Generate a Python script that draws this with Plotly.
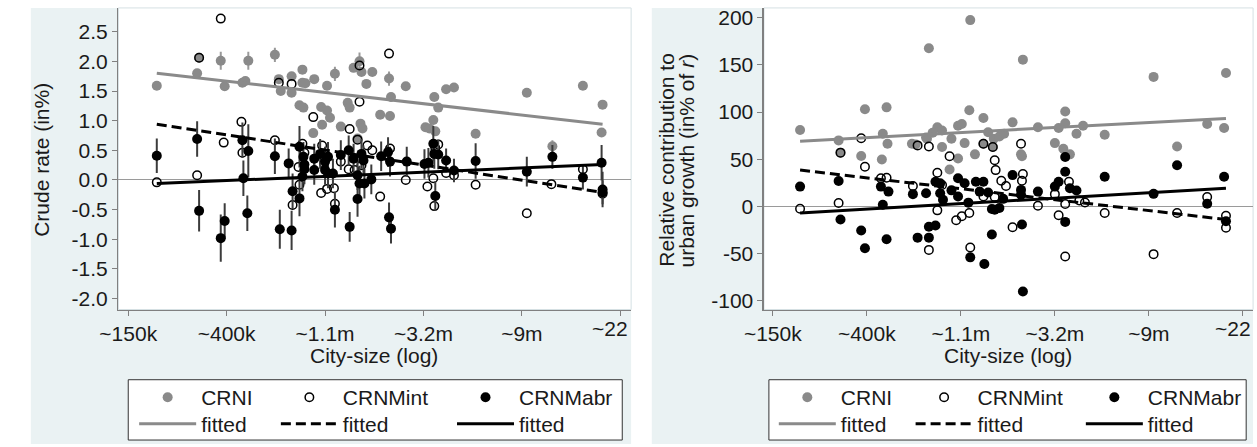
import plotly.graph_objects as go

W, H = 1257, 447

# ---------------- tick labels ----------------
x_tickvals = [12, 13, 14, 15, 16, 17]
x_ticktext = ["~150k", "~400k", "~1.1m", "~3.2m", "~9m", ""]
x_last_label = "~22"          # shown clipped at the panel edge in the original
yL_tickvals = [2.5, 2.0, 1.5, 1.0, 0.5, 0.0, -0.5, -1.0, -1.5, -2.0]
yL_ticktext = ["2.5", "2.0", "1.5", "1.0", "0.5", "0.0", "-0.5", "-1.0", "-1.5", "-2.0"]
yR_tickvals = [200, 150, 100, 50, 0, -50, -100]
yR_ticktext = ["200", "150", "100", "50", "0", "-50", "-100"]

# ---------------- left panel: crude rates (in %) ----------------
L_crni_x = [12.29, 12.70, 12.72, 12.94, 12.98, 13.16, 13.19, 13.22, 13.49, 13.53, 13.55, 13.66, 13.66,
            13.74, 13.77, 13.77, 13.80, 13.78, 13.88, 13.89, 13.96, 13.97, 14.02, 14.02, 14.05, 14.10,
            14.16, 14.23, 14.25, 14.29, 14.33, 14.35, 14.36, 14.37, 14.38, 14.42, 14.48, 14.56, 14.65,
            14.66, 14.67, 14.82, 15.02, 15.06, 15.10, 15.11, 15.12, 15.15, 15.23, 15.31, 15.53, 16.05,
            16.31, 16.62, 16.81, 16.82]
L_crni_y = [1.59, 1.80, 2.06, 2.01, 1.58, 1.64, 1.67, 2.01, 2.11, 1.70, 1.50, 1.75, 1.47,
            1.26, 1.86, 1.64, 1.63, 1.22, 0.79, 1.70, 1.23, 0.93, 1.59, 1.17, 1.05, 1.79,
            0.90, 1.30, 1.22, 1.89, 0.70, 2.00, 0.95, 1.82, 0.87, 1.62, 1.82, 1.10, 1.71,
            1.08, 1.40, 1.58, 0.89, 0.87, 1.01, 1.40, 0.82, 1.22, 1.53, 1.56, 0.78, 1.47,
            0.57, 1.59, 0.80, 1.27]
L_crni_err = [0, 0, 0, 0.15, 0, 0, 0, 0.15, 0.12, 0, 0, 0, 0,
              0, 0, 0, 0, 0, 0, 0, 0, 0, 0, 0, 0, 0.12,
              0, 0, 0, 0, 0, 0.15, 0, 0, 0, 0, 0, 0, 0.12,
              0, 0, 0, 0, 0, 0, 0, 0, 0, 0, 0, 0, 0,
              0.10, 0, 0, 0]

L_int_x = [12.29, 12.70, 12.72, 12.94, 12.97, 13.15, 13.16, 13.49, 13.53, 13.66, 13.67, 13.73, 13.74,
           13.77, 13.79, 13.88, 13.96, 13.97, 13.99, 14.02, 14.09, 14.10, 14.16, 14.24, 14.25, 14.30,
           14.33, 14.35, 14.35, 14.37, 14.43, 14.48, 14.56, 14.65, 14.66, 14.82, 15.04, 15.10, 15.12,
           15.15, 15.11, 15.23, 15.31, 15.53, 16.05, 16.30, 16.62, 16.82]
L_int_y = [-0.04, 0.08, 2.06, 2.72, 0.63, 0.98, 0.46, 0.67, 1.64, 1.62, -0.42, 0.22, -0.08,
           0.61, 0.46, 1.06, -0.22, 0.58, 0.28, -0.15, -0.14, -0.40, 0.31, 0.18, 0.86, 0.17,
           0.68, 1.93, 1.32, 0.25, 0.58, 0.50, -0.28, 2.13, 0.53, 0.00, -0.11, 0.03, 0.54,
           0.60, -0.44, 0.12, 0.08, -0.08, -0.56, -0.07, 0.18, -0.23]

L_abr_x = [12.29, 12.70, 12.72, 12.94, 12.98, 13.16, 13.17, 13.21, 13.22, 13.49, 13.54, 13.63, 13.66,
           13.67, 13.74, 13.74, 13.77, 13.78, 13.79, 13.79, 13.89, 13.89, 13.95, 14.00, 14.00, 14.03,
           14.03, 14.08, 14.10, 14.16, 14.24, 14.25, 14.29, 14.33, 14.33, 14.35, 14.37, 14.39, 14.40,
           14.47, 14.57, 14.64, 14.65, 14.66, 14.67, 14.83, 15.01, 15.05, 15.10, 15.11, 15.15, 15.12,
           15.23, 15.31, 15.53, 16.05, 16.31, 16.62, 16.81, 16.82, 16.82]
L_abr_y = [0.41, 0.69, -0.52, -0.98, -0.69, 0.67, 0.03, -0.56, 0.49, 0.40, -0.83, 0.28, -0.85,
           -0.19, 0.56, -0.31, 0.06, 0.39, 0.26, 0.18, 0.36, 0.17, 0.44, 0.31, 0.17, 0.39,
           0.11, 0.11, -0.50, 0.42, 0.50, -0.79, 0.36, -0.32, 0.08, -0.06, 0.44, 0.33, -0.06,
           0.01, 0.40, 0.47, -0.63, 0.31, -0.82, 0.31, 0.27, 0.29, 0.61, 0.44, 0.43, -0.27,
           0.33, 0.16, 0.32, 0.14, 0.39, 0.04, 0.29, -0.16, -0.21]
L_abr_err = [0.29, 0.30, 0.35, 0.40, 0.30, 0.30, 0.30, 0.30, 0.45, 0.30, 0.33, 0.25, 0.33,
             0.30, 0.35, 0.30, 0.25, 0.25, 0.20, 0.25, 0.25, 0.25, 0.25, 0.25, 0.25, 0.25,
             0.25, 0.25, 0.30, 0.25, 0.25, 0.25, 0.25, 0.30, 0.25, 0.30, 0.25, 0.25, 0.25,
             0.25, 0.25, 0.25, 0.25, 0.25, 0.25, 0.25, 0.25, 0.25, 0.30, 0.25, 0.25, 0.25,
             0.20, 0.20, 0.30, 0.25, 0.20, 0.20, 0.30, 0.30, 0.20]

fit_x = [12.29, 16.82]
L_fit_crni = [1.80, 0.94]
L_fit_int = [0.94, -0.21]
L_fit_abr = [-0.06, 0.26]

# ---------------- right panel: relative contribution (in % of r) ----------------
R_crni_x = [12.29, 12.70, 12.72, 12.98, 13.21, 12.94, 13.16, 13.17, 13.22, 13.48, 13.52, 13.64, 13.66,
            14.10, 14.66, 14.09, 14.24, 14.55, 15.11, 15.11, 14.82, 15.04, 15.30, 15.23, 15.00, 15.09,
            15.16, 14.64, 14.65, 13.75, 13.80, 13.97, 14.01, 13.90, 14.04, 14.29, 14.35, 14.41, 14.46,
            13.80, 13.97, 14.15, 13.88, 14.24, 14.34, 16.05, 16.82, 16.62, 16.80, 16.30, 15.53, 13.63,
            13.70]
R_crni_y = [81, 70, 57, 103, 105, 53.5, 49.7, 77, 66.5, 66.5, 65.7, 71.7, 167.7,
            197.5, 155.6, 102, 93.7, 89.1, 100.6, 88.1, 83.9, 83.2, 85.6, 77, 67.1, 61.2,
            55.2, 55.2, 53.1, 83.9, 80.4, 85.6, 87.4, 71.7, 67.1, 78.6, 71.7, 74.1, 77,
            62.9, 50.7, 55.2, 39.2, 66.5, 62.9, 137.3, 141.5, 87.4, 83.2, 63.6, 75.9, 73,
            78]

R_int_x = [12.29, 12.70, 12.72, 12.94, 12.98, 13.15, 13.21, 13.49, 13.54, 13.66, 13.66, 13.88, 13.75,
           13.80, 13.75, 13.95, 14.01, 14.09, 14.10, 14.24, 14.34, 14.36, 14.37, 14.43, 14.48, 14.36,
           14.24, 14.64, 14.66, 14.65, 14.82, 14.55, 15.04, 15.11, 15.15, 15.00, 15.11, 15.26, 15.32,
           15.53, 16.05, 16.30, 16.62, 16.82, 16.82]
R_int_y = [-2.4, 3.6, 57, 72.3, 42, 29.8, 30.4, 21.7, 64.7, 63.6, -46.1, 53.1, 35.6,
           22.7, -4.2, -14.7, -10.5, -6.9, -43.6, 66.5, 62.9, 49, 38.5, 27.3, 21.7, 9.9,
           10.5, 66.5, 34.3, 27.3, 0.7, -22, -9.4, 2.5, 26.2, 13, -53, 6.3, 4.2,
           -7, -50.6, -7, 9.9, -22.6, -10]

R_abr_x = [12.29, 12.70, 12.72, 12.94, 12.98, 13.15, 13.23, 13.17, 13.21, 13.49, 13.63, 13.54, 13.66,
           13.66, 13.73, 13.73, 13.78, 13.78, 13.81, 13.97, 14.04, 13.97, 14.16, 14.24, 14.20, 14.29,
           14.33, 14.36, 14.41, 14.33, 14.10, 14.25, 14.55, 14.64, 14.64, 14.65, 14.66, 14.82, 15.11,
           15.11, 15.04, 15.00, 15.16, 15.23, 15.11, 15.53, 16.05, 16.30, 16.62, 16.80, 16.82, 13.90,
           14.08, 14.45]
R_abr_y = [21, 26.9, -13.9, -25.5, -44.3, 21, 15.7, 1.8, -34.9, 13, 14, -33.1, -33.1,
           -21.6, -20.2, 26.2, 24.5, 14, 7, 29.8, 24.5, 10.5, 26.2, 26.2, 15.7, 14.7,
           -2.7, -3.5, -1.7, -29.7, -54, -61, 33.2, 17.5, 12.3, -19.2, -90.1, 15.7, 52.4,
           36.7, 26.2, 21, 19.3, 16.8, -16.4, 31.4, 13.3, 43.7, 2.8, 31.4, -15.7, 17,
           4, 8]

R_fit_crni = [69.2, 93.3]
R_fit_int = [38.5, -13.9]
R_fit_abr = [-6.9, 19.3]

# ---------------- styling ----------------
GRAY = "#8a8a8a"
FONT = "Liberation Sans, Arial, sans-serif"
FS = 21
TXT = "#1a1a1a"


def px_x(p):
    """page pixel -> paper fraction"""
    return min(max(p / W, 0.0), 1.0)


def px_y(p):
    return min(max(1 - p / H, 0.0), 1.0)


fig = go.Figure()


def add_panel(xa, ya, cx, cy, ce, ix, iy, ax, ay, ae, fc, fi, fa, lg):
    err_c = dict(type="data", array=ce, visible=True, color="#9a9a9a", thickness=2, width=0) if ce else None
    err_a = dict(type="data", array=ae, visible=True, color="#3c3c3c", thickness=2, width=0) if ae else None
    fig.add_trace(go.Scatter(x=cx, y=cy, mode="markers", name="CRNI", xaxis=xa, yaxis=ya,
                             marker=dict(color=GRAY, size=10, line=dict(width=0)),
                             error_y=err_c, legend=lg[0]))
    fig.add_trace(go.Scatter(x=ix, y=iy, mode="markers", name="CRNMint", xaxis=xa, yaxis=ya,
                             marker=dict(symbol="circle-open", color="black", size=8.5, line=dict(width=1.5)),
                             legend=lg[1]))
    fig.add_trace(go.Scatter(x=ax, y=ay, mode="markers", name="CRNMabr", xaxis=xa, yaxis=ya,
                             marker=dict(color="black", size=10, line=dict(width=0)),
                             error_y=err_a, legend=lg[2]))
    fig.add_trace(go.Scatter(x=fit_x, y=fc, mode="lines", name="fitted", xaxis=xa, yaxis=ya,
                             line=dict(color=GRAY, width=3), legend=lg[3]))
    fig.add_trace(go.Scatter(x=fit_x, y=fi, mode="lines", name="fitted", xaxis=xa, yaxis=ya,
                             line=dict(color="black", width=3, dash="10px,5px"), legend=lg[4]))
    fig.add_trace(go.Scatter(x=fit_x, y=fa, mode="lines", name="fitted", xaxis=xa, yaxis=ya,
                             line=dict(color="black", width=3), legend=lg[5]))


add_panel("x", "y", L_crni_x, L_crni_y, L_crni_err, L_int_x, L_int_y, L_abr_x, L_abr_y, L_abr_err,
          L_fit_crni, L_fit_int, L_fit_abr, ["legend", "legend2", "legend3", "legend4", "legend5", "legend6"])
add_panel("x2", "y2", R_crni_x, R_crni_y, None, R_int_x, R_int_y, R_abr_x, R_abr_y, None,
          R_fit_crni, R_fit_int, R_fit_abr, ["legend7", "legend8", "legend9", "legend10", "legend11", "legend12"])

axis_common = dict(showgrid=False, ticks="outside", ticklen=5, tickcolor="#808080", showline=True,
                   linecolor="#808080", linewidth=1.5, tickfont=dict(size=FS, color=TXT, family=FONT),
                   mirror=False, ticklabeloverflow="allow")

PLOT_TOP = 6
PLOT_BOT = 311
fig.update_layout(
    width=W, height=H, margin=dict(l=0, r=0, t=0, b=0), showlegend=True, hovermode=False,
    paper_bgcolor="white", plot_bgcolor="rgba(0,0,0,0)",
    font=dict(family=FONT, size=FS, color=TXT),
    xaxis=dict(domain=[px_x(100), px_x(621)], range=[11.9, 17.11], tickvals=x_tickvals,
               ticktext=x_ticktext, anchor="y", zeroline=False, **axis_common),
    yaxis=dict(domain=[px_y(PLOT_BOT), px_y(PLOT_TOP)], range=[-2.183, 2.9], tickvals=yL_tickvals,
               ticktext=yL_ticktext, anchor="x", zeroline=True, zerolinecolor="#9a9a9a",
               zerolinewidth=1, **axis_common),
    xaxis2=dict(domain=[px_x(756), px_x(1253)], range=[11.906, 17.108], tickvals=x_tickvals,
                ticktext=x_ticktext, anchor="y2", zeroline=False, **axis_common),
    yaxis2=dict(domain=[px_y(PLOT_BOT), px_y(PLOT_TOP)], range=[-109.3, 210.4], tickvals=yR_tickvals,
                ticktext=yR_ticktext, anchor="x2", zeroline=True, zerolinecolor="#9a9a9a",
                zerolinewidth=1, **axis_common),
)

# legends: one entry per legend so that the Stata-like column layout is reproduced
ITEMW = 57
legend_pos = {
    "legend": (183, 400), "legend2": (327, 400), "legend3": (506, 400),
    "legend4": (183, 427), "legend5": (327, 427), "legend6": (506, 427),
    "legend7": (833, 400), "legend8": (972, 400), "legend9": (1145, 400),
    "legend10": (833, 427), "legend11": (972, 427), "legend12": (1145, 427),
}
leg_layout = {}
for name, (tx, ty) in legend_pos.items():
    leg_layout[name] = dict(x=px_x(tx - ITEMW - 10), y=px_y(ty), xanchor="left", yanchor="middle",
                            bgcolor="rgba(0,0,0,0)", borderwidth=0, itemwidth=ITEMW,
                            font=dict(size=FS, family=FONT, color=TXT))
fig.update_layout(**leg_layout)

BG = "#eaf2f3"
shapes = [
    dict(type="rect", xref="paper", yref="paper", x0=px_x(11), x1=px_x(621), y0=0, y1=px_y(PLOT_TOP),
         fillcolor=BG, line=dict(width=0), layer="below"),
    dict(type="rect", xref="paper", yref="paper", x0=px_x(642), x1=px_x(1253), y0=0, y1=px_y(PLOT_TOP),
         fillcolor=BG, line=dict(width=0), layer="below"),
    dict(type="rect", xref="paper", yref="paper", x0=px_x(100), x1=px_x(621), y0=px_y(PLOT_BOT),
         y1=px_y(PLOT_TOP), fillcolor="white", line=dict(color="#d5e0e3", width=1), layer="below"),
    dict(type="rect", xref="paper", yref="paper", x0=px_x(756), x1=px_x(1253), y0=px_y(PLOT_BOT),
         y1=px_y(PLOT_TOP), fillcolor="white", line=dict(color="#d5e0e3", width=1), layer="below"),
    dict(type="rect", xref="paper", yref="paper", x0=px_x(110), x1=px_x(612), y0=px_y(443), y1=px_y(382),
         fillcolor="white", line=dict(color="#333333", width=1), layer="below"),
    dict(type="rect", xref="paper", yref="paper", x0=px_x(761), x1=px_x(1246), y0=px_y(443), y1=px_y(382),
         fillcolor="white", line=dict(color="#333333", width=1), layer="below"),
]
fig.update_layout(shapes=shapes)


def ann(text, x, y, xanchor="center", angle=0):
    return dict(text=text, x=px_x(x), y=px_y(y), xref="paper", yref="paper", showarrow=False,
                xanchor=xanchor, yanchor="middle", textangle=angle, font=dict(size=FS, color=TXT, family=FONT))


annotations = [
    ann("City-size (log)", 360, 358),
    ann("City-size (log)", 1004, 358),
    ann("Crude rate (in%)", 22, 160, angle=-90),
    ann("Relative contribution to", 657, 160, angle=-90),
    ann("urban growth (in% of <i>r</i>)", 677, 160, angle=-90),
    ann(x_last_label, 620, 330, xanchor="right"),
    ann(x_last_label, 1253, 330, xanchor="right"),
]
fig.update_layout(annotations=annotations)

# remove the default page margin so the 1257x447 figure fills the window exactly
page_fix = ("document.body.style.margin='0';document.body.style.padding='0';"
            "document.body.style.overflow='hidden';document.documentElement.style.overflow='hidden';")
fig.write_html("out.html", post_script=page_fix, config={"displayModeBar": False, "staticPlot": True})
